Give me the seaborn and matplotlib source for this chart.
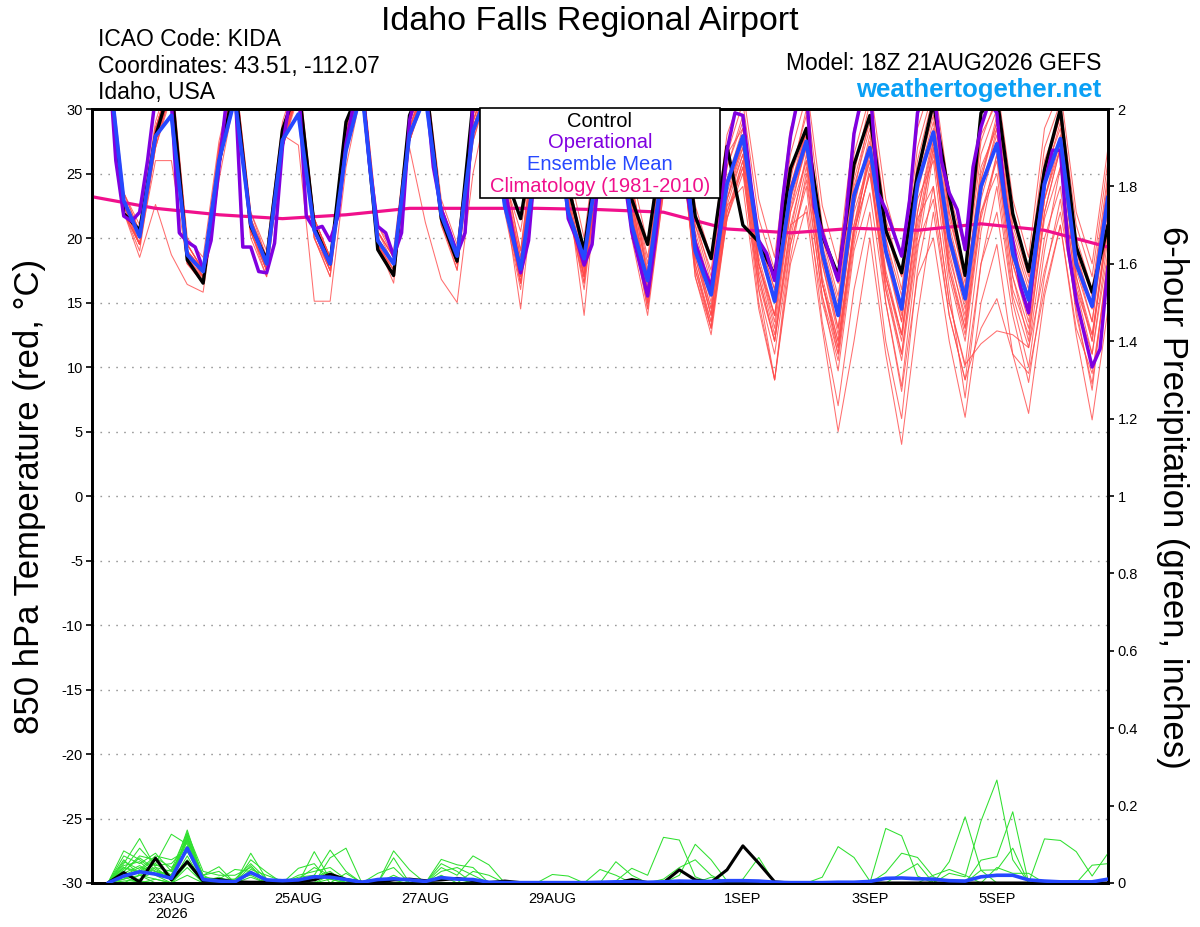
import numpy as np
import pandas as pd
import matplotlib
matplotlib.use("Agg")
import matplotlib.pyplot as plt
import seaborn as sns
from matplotlib.patches import Rectangle

# ------------------------------------------------------------------ data
INIT_TIME = "2026-08-21 18:00"          # model run (18Z 21AUG2026)
N_STEPS = 64                            # 6-hourly steps on the time axis

# Control run, 850 hPa temperature (deg C), steps 1..64 (6-hourly)
CONTROL_T = [
    34.0, 21.9, 20.6, 27.9,  32.0, 18.3, 16.5, 25.8,  32.0, 20.9, 18.3, 28.4,  32.0, 20.9, 18.0, 29.0,
    32.0, 19.1, 17.1, 29.5,  32.5, 21.5, 18.2, 30.5,  33.0, 25.0, 21.5, 29.0,  32.0, 24.0, 19.0, 28.0,
    31.5, 23.0, 19.5, 28.0,  31.0, 21.7, 18.4, 27.1,  21.0, 19.7, 17.1, 25.4,  28.5, 20.2, 17.1, 25.7,
    29.5, 20.6, 17.3, 25.0,  30.5, 23.2, 17.1, 29.7,  31.0, 21.9, 17.4, 25.3,  30.0, 19.3, 15.8, 21.0,
]

# Ensemble mean, steps 1..64
MEAN_T = [
    34.0, 22.9, 20.1, 27.9,  29.5, 18.7, 17.4, 26.0,  30.8, 21.1, 18.0, 27.6,  29.6, 20.6, 18.0, 26.8,
    31.5, 19.8, 18.0, 28.0,  31.0, 21.8, 18.6, 28.3,  31.5, 22.5, 17.6, 26.0,  31.0, 22.0, 18.4, 27.0,
    31.0, 21.0, 16.7, 26.0,  30.5, 19.0, 15.6, 24.2,  27.9, 19.5, 15.1, 23.6,  27.5, 18.9, 14.0, 23.3,
    27.0, 19.0, 14.5, 24.2,  28.2, 20.0, 15.3, 24.0,  27.3, 18.8, 15.2, 24.2,  27.7, 18.0, 14.7, 23.2,
]

# Operational run, 3-hourly from step 1 to step 64
OPER_T = [
    35.0, 26.0, 21.7, 21.3, 22.0, 26.0, 31.0, 33.0, 30.5, 20.4, 19.7, 19.3, 17.6, 19.8, 25.5, 31.0,
    32.0, 19.3, 19.3, 17.4, 17.3, 19.6, 27.1, 31.0, 32.0, 21.7, 20.7, 20.9, 19.8, 21.7, 27.3, 30.5,
    32.0, 25.5, 20.9, 20.4, 18.6, 20.4, 29.1, 31.5, 32.0, 25.5, 22.2, 20.6, 18.8, 20.4, 30.5, 32.0,
    32.0, 28.0, 24.0, 20.4, 17.3, 19.8, 27.0, 31.0, 32.0, 28.0, 21.5, 20.0, 17.9, 19.5, 26.0, 30.5,
    31.5, 25.0, 20.5, 18.0, 15.5, 20.0, 26.0, 30.5, 31.5, 23.5, 19.6, 17.8, 16.2, 20.4, 26.8, 29.7,
    29.5, 24.2, 19.8, 18.8, 16.7, 22.9, 27.9, 31.0, 31.5, 22.4, 20.4, 18.6, 16.7, 21.7, 28.1, 31.0,
    32.0, 23.5, 22.2, 20.4, 18.6, 22.9, 29.7, 31.5, 32.0, 26.0, 23.5, 22.2, 19.1, 25.5, 28.6, 30.5,
    29.7, 22.9, 19.8, 16.2, 14.2, 19.8, 24.2, 26.8, 26.8, 19.1, 15.2, 12.6, 10.0, 11.4, 17.8,
]

# Climatology (1981-2010), daily values at steps 0, 4, 8, ..., 64
CLIM_T = [23.2, 22.3, 21.8, 21.5, 21.8, 22.3, 22.3, 22.3, 22.2,
          22.0, 20.7, 20.4, 20.75, 20.6, 21.1, 20.6, 19.3]

# Ensemble members, 850 hPa temperature, steps 1..64
MEMBERS_T = [
    [34.5,22.0,20.5,28.0, 32.5,18.5,16.8,26.0, 32.0,20.8,18.2,28.5, 32.0,21.0,18.2,28.0,
     32.5,19.5,17.5,29.0, 32.5,21.5,18.0,29.5, 33.0,24.5,20.5,28.5, 32.0,24.5,19.0,28.0,
     31.5,24.0,18.5,27.0, 31.0,21.0,17.5,26.5, 28.5,20.0,17.0,25.0, 28.0,20.0,16.5,25.5,
     29.5,21.0,17.0,25.0, 30.5,22.0,16.5,28.0, 30.5,21.0,17.0,25.5, 30.0,19.0,16.0,22.0],
    [33.5,23.0,19.5,27.5, 31.5,19.5,17.5,27.0, 32.5,21.5,17.5,27.5, 31.5,20.0,17.0,27.0,
     31.5,20.5,18.5,27.5, 31.0,22.5,18.5,28.0, 31.5,23.0,17.0,26.5, 31.5,23.0,17.0,26.0,
     30.5,22.0,15.5,25.0, 29.5,19.0,14.0,23.0, 27.0,18.0,13.0,22.0, 26.0,16.5,11.0,20.5,
     25.0,17.0,12.5,22.0, 27.5,19.0,13.5,23.5, 28.5,18.0,14.0,23.0, 28.0,17.5,13.5,22.5],
    [35.0,23.5,21.0,29.0, 33.0,20.0,18.5,27.5, 33.0,22.0,19.0,29.0, 33.0,21.5,18.5,28.5,
     33.0,21.0,19.0,29.5, 33.0,23.0,19.5,29.5, 33.5,25.0,19.0,29.0, 33.5,25.5,20.0,29.5,
     33.0,25.0,19.5,29.0, 32.5,22.5,18.5,28.0, 31.5,23.0,18.5,28.5, 32.0,22.5,18.0,28.5,
     32.0,23.0,18.5,28.5, 32.5,23.5,19.0,29.0, 32.0,23.0,18.5,28.5, 31.5,22.0,18.0,27.0],
    [33.5,22.5,19.5,26.0, 26.0,18.0,17.0,25.5, 31.5,21.0,18.5,27.0, 31.5,20.5,17.5,27.0,
     32.0,20.0,17.0,28.0, 32.0,21.0,18.0,28.0, 32.0,22.5,16.5,26.0, 31.0,22.0,16.5,26.5,
     30.0,21.0,14.5,24.0, 28.5,17.0,12.5,21.5, 25.0,16.0,11.0,19.5, 24.0,13.5,7.0,16.0,
     22.0,12.0,6.0,17.5, 24.0,15.0,10.0,20.5, 26.5,17.0,12.0,22.0, 27.0,16.5,12.0,21.0],
    [34.0,22.0,18.5,22.6, 18.7,16.4,15.8,24.5, 31.0,20.0,17.0,27.0, 32.0,21.5,18.5,28.5,
     32.0,19.0,17.0,28.5, 32.0,21.5,18.0,28.0, 32.5,24.0,18.0,27.5, 32.0,23.5,17.5,27.0,
     31.0,22.5,16.0,26.0, 30.5,19.5,15.0,24.5, 28.0,18.0,14.0,23.0, 28.5,18.5,13.0,22.0,
     26.0,15.0,8.5,19.0, 26.5,18.5,14.0,24.5, 29.0,19.5,15.5,25.0, 29.5,18.5,14.5,23.5],
    [34.0,23.0,20.0,28.5, 32.0,19.0,17.5,26.5, 32.5,21.5,18.0,28.0, 27.2,15.1,15.1,25.5,
     31.5,20.0,18.0,28.0, 32.0,22.0,18.5,28.5, 32.0,23.5,17.5,27.5, 32.5,24.0,18.5,27.5,
     31.5,23.5,17.0,27.0, 31.5,20.5,16.0,25.5, 29.5,20.0,16.0,24.5, 30.0,20.0,15.5,25.0,
     30.5,21.0,16.0,26.0, 31.0,21.5,17.0,26.5, 30.0,20.5,16.5,26.0, 29.5,20.0,16.0,25.0],
    [34.0,22.5,20.0,27.5, 31.5,19.0,17.0,26.0, 32.0,21.0,18.0,27.5, 32.0,21.0,18.0,27.0,
     31.5,20.0,17.5,27.0, 21.2,16.8,15.0,25.0, 31.0,22.0,16.0,26.0, 31.5,22.5,17.0,26.5,
     30.5,21.5,15.0,24.5, 29.0,18.0,13.0,22.5, 26.5,17.0,12.0,21.0, 22.0,13.0,5.0,12.0,
     20.0,11.0,4.0,14.0, 22.0,14.0,9.0,18.0, 24.0,15.0,10.0,19.0, 25.5,16.0,11.0,20.0],
    [34.5,22.0,19.5,27.5, 32.0,18.0,16.5,25.5, 31.5,20.5,17.5,27.0, 31.5,20.5,17.5,27.5,
     32.0,19.5,16.5,27.5, 31.5,21.5,18.0,28.5, 32.5,23.0,14.5,25.5, 31.0,22.5,16.0,26.0,
     30.0,20.0,14.0,23.5, 28.0,17.5,13.0,22.0, 25.5,15.0,9.0,19.5, 24.5,15.5,9.7,19.0,
     23.5,15.0,8.1,17.0, 20.0,12.0,6.1,15.0, 19.5,11.0,6.4,15.5, 21.0,12.5,5.9,14.5],
    [33.5,23.5,20.5,28.5, 32.5,19.5,17.5,26.5, 32.0,21.0,18.5,28.0, 32.5,21.5,18.5,28.0,
     32.5,20.5,18.5,28.5, 32.0,22.0,19.0,29.0, 32.5,24.0,18.5,28.0, 32.0,24.0,18.5,27.5,
     31.5,23.5,17.0,26.5, 30.0,20.0,15.5,24.0, 27.0,18.0,14.0,22.0, 27.5,18.0,12.5,22.5,
     28.0,19.0,13.5,23.0, 26.0,16.0,7.6,18.0, 22.0,14.0,8.8,17.0, 23.0,14.5,8.2,18.5],
    [34.0,22.5,20.0,28.0, 32.0,19.0,17.0,26.5, 32.0,21.0,18.5,28.0, 31.5,21.0,18.5,27.5,
     32.0,20.0,18.0,28.5, 32.0,22.0,18.5,28.5, 32.0,23.5,17.5,27.0, 32.0,23.5,14.0,27.0,
     31.0,23.0,16.0,25.5, 29.0,18.5,14.0,22.5, 24.0,14.5,9.0,18.0, 22.5,15.0,10.5,19.5,
     25.5,16.5,11.0,20.5, 27.0,17.5,12.5,22.0, 25.0,15.5,11.5,20.0, 24.0,14.0,8.7,18.5],
    [34.0,22.0,19.5,27.5, 31.5,18.5,17.0,26.0, 31.5,20.5,17.5,27.0, 31.5,20.5,17.5,27.0,
     31.0,19.5,17.0,27.5, 31.5,21.5,18.0,28.0, 32.0,23.0,17.0,26.0, 31.0,23.0,17.0,26.5,
     30.5,22.0,15.5,25.0, 29.5,19.0,14.5,23.0, 26.5,17.5,12.5,21.0, 26.0,16.5,12.0,20.5,
     26.5,17.0,12.5,21.5, 24.0,15.0,10.2,11.8, 12.8,12.5,11.5,17.5, 22.0,15.0,11.0,19.0],
    [33.5,22.5,19.5,27.0, 31.5,18.5,16.5,25.5, 31.5,20.5,17.5,27.5, 32.0,20.5,17.5,27.5,
     32.0,19.5,17.0,28.0, 31.5,21.0,17.5,28.0, 31.5,22.5,16.5,25.5, 31.5,22.5,17.0,26.0,
     30.5,21.5,14.5,23.5, 29.0,18.0,13.5,21.5, 25.5,16.5,12.0,20.0, 25.5,16.5,11.5,20.5,
     25.0,16.0,10.5,19.5, 23.0,14.0,9.0,13.0, 15.3,11.0,9.5,16.0, 21.0,13.0,9.5,17.5],
    [34.5,23.0,20.5,28.5, 32.0,19.0,17.5,27.0, 32.5,21.5,18.5,28.5, 32.0,21.0,18.0,28.0,
     32.5,20.0,18.0,29.0, 32.5,22.5,19.0,29.0, 33.0,24.0,18.0,28.0, 32.5,24.5,19.0,28.5,
     32.0,24.0,17.5,27.5, 31.0,21.0,16.5,25.5, 29.0,20.0,16.0,25.0, 29.5,19.5,15.0,24.5,
     29.0,20.0,15.5,25.0, 29.5,20.5,16.0,25.0, 29.0,20.0,16.0,25.5, 29.5,19.5,15.5,24.5],
    [33.0,22.0,19.0,27.0, 31.0,18.0,16.5,25.5, 31.5,20.5,17.0,27.0, 31.0,20.0,17.0,26.5,
     31.5,19.5,17.0,27.5, 31.5,21.5,17.5,27.5, 31.5,22.5,16.5,26.0, 31.5,22.5,16.5,26.0,
     30.0,21.5,15.0,24.5, 28.5,17.5,13.5,22.0, 26.0,16.0,9.0,18.5, 25.0,15.5,11.0,20.0,
     27.0,17.0,12.0,21.0, 27.5,17.5,13.0,22.0, 26.0,16.0,12.5,21.5, 25.5,16.0,12.5,20.5],
    [34.0,23.0,20.0,28.0, 32.5,19.5,17.5,26.5, 32.0,21.5,18.0,28.0, 32.0,21.0,18.0,27.5,
     32.0,20.5,18.0,28.0, 32.0,22.0,19.0,28.5, 32.5,24.0,18.0,27.5, 32.0,24.0,18.5,27.5,
     31.5,23.0,16.5,26.0, 30.5,20.0,15.5,24.5, 28.0,19.5,15.5,24.0, 28.5,19.0,14.5,24.0,
     28.5,19.5,14.0,24.5, 29.0,20.0,15.0,24.5, 29.5,19.5,15.0,25.0, 28.5,19.0,14.5,23.5],
    [34.0,22.5,20.5,28.5, 32.5,19.0,17.0,26.0, 32.0,21.0,18.0,28.0, 32.5,21.5,18.5,28.0,
     32.5,20.0,18.0,28.5, 32.5,22.0,18.5,28.5, 32.5,24.0,17.5,27.0, 32.0,24.0,18.0,27.0,
     31.5,23.0,16.0,25.0, 30.0,18.5,14.0,23.0, 27.5,18.5,14.0,23.0, 27.0,18.0,13.0,22.5,
     27.5,18.5,13.5,23.5, 28.5,19.5,14.5,24.0, 28.0,18.5,14.0,23.0, 27.5,18.0,13.5,22.5],
    [34.5,23.0,20.0,28.0, 32.0,19.0,17.5,26.5, 32.5,21.5,18.5,28.5, 32.5,21.0,18.5,28.5,
     32.0,20.5,18.5,28.5, 32.0,22.5,19.0,29.0, 33.0,24.5,18.5,28.5, 32.5,24.5,19.0,28.0,
     32.0,24.0,18.0,27.5, 31.5,21.5,17.0,26.5, 30.5,21.5,17.5,26.5, 31.0,21.0,16.5,26.5,
     31.0,21.5,17.0,27.0, 31.5,22.0,17.5,27.5, 31.0,21.5,17.5,27.0, 30.5,21.0,17.0,26.0],
    [33.5,22.0,19.5,27.0, 31.5,18.5,16.5,25.5, 31.5,20.5,17.5,27.0, 31.5,20.0,17.5,27.0,
     31.5,19.5,17.0,27.5, 31.5,21.5,18.0,27.5, 32.0,23.0,16.5,26.0, 31.5,23.0,17.0,26.0,
     30.5,22.0,15.0,24.0, 29.0,17.0,13.0,21.5, 26.0,17.0,12.0,20.5, 26.5,16.5,11.5,21.0,
     26.0,16.0,11.0,20.0, 27.0,17.0,12.0,21.5, 26.5,17.0,13.0,22.0, 27.0,17.0,12.5,21.5],
    [34.0,23.5,20.5,28.5, 32.5,19.5,17.5,27.0, 33.0,22.0,18.5,28.5, 32.5,21.0,18.5,28.0,
     33.0,21.0,18.5,29.0, 32.5,22.5,19.0,29.0, 33.0,25.0,19.0,28.5, 32.5,24.0,19.0,28.0,
     32.0,24.5,17.0,26.5, 31.0,20.0,16.0,24.5, 28.5,19.0,15.0,24.0, 28.0,18.5,14.0,23.5,
     29.5,20.0,14.5,25.0, 30.0,21.0,16.0,25.5, 28.5,19.0,15.5,24.5, 29.0,18.5,15.0,24.0],
    [34.0,22.0,19.5,27.5, 32.0,18.5,16.5,26.0, 32.0,21.0,17.5,27.5, 32.0,20.5,17.5,27.5,
     32.0,19.5,17.5,28.0, 31.5,21.5,18.0,28.0, 32.0,23.5,17.0,26.5, 31.5,23.5,17.5,27.0,
     31.0,22.5,15.5,25.0, 30.0,19.0,14.5,23.5, 27.5,18.0,13.5,22.5, 27.0,17.0,12.0,21.0,
     27.0,17.5,12.5,22.0, 28.0,18.0,13.0,23.0, 27.5,18.0,13.5,23.0, 27.0,17.0,12.0,21.5],
]

# 6-hour precipitation (inches), steps 1..64
CONTROL_P = [
    0, .027, .003, .064, .008, .055, .005, .009,   .003, .002, .002, .002, .003, .008, .023, .009,
    .002, .002, .008, .010, .006, .008, .012, .006,  .001, .005, .001, 0, 0, 0, 0, 0,
    0, .009, .001, .001, .034, .008, .002, .034,   .096, .051, .003, 0, 0, 0, 0, 0,
    0, 0, 0, 0, 0, 0, 0, 0,                        0, 0, 0, 0, 0, 0, 0, 0,
]
MEAN_P = [
    0, .018, .029, .023, .012, .090, .009, .005,   .003, .027, .008, .006, .008, .016, .015, .009,
    .002, .009, .011, .008, .004, .014, .010, .009,  .002, .001, .001, .001, .001, .001, .001, .002,
    .003, .003, .002, .003, .005, .004, .004, .006,  .006, .005, .002, .001, .001, .001, .002, .002,
    .004, .012, .013, .011, .010, .006, .005, .016,  .020, .020, .008, .005, .003, .003, .003, .010,
]
MEMBERS_P = [
    [0,.083,.06,.03,.02,.137,.01,0, 0,.077,.01,0,0,0,.02,0, 0,0,.083,.034,0,0,0,0, 0,0,0,0,0,0,0,0,
     0,0,0,0,0,0,0,0, 0,0,0,0,0,0,0,0, 0,.141,.122,.018,0,0,0,0, 0,0,0,0,0,0,0,0],
    [0,.05,.115,.04,.01,.12,.005,.01, .035,.03,0,0,0,.081,.01,0, 0,.025,.04,0,0,.05,.03,0, 0,0,0,0,0,0,0,0,
     0,0,0,0,0,0,0,0, 0,0,0,0,0,0,0,0, 0,.027,.077,.066,.016,0,0,0, 0,0,0,0,0,0,0,0],
    [0,.07,.05,.077,.03,.11,.02,.042, 0,.06,.028,0,0,.02,.085,.03, 0,0,.065,0,0,.061,.047,.04, 0,0,0,0,0,0,0,0,
     0,0,0,0,0,0,0,0, 0,0,0,0,0,0,0,0, 0,0,.025,.05,0,.055,.171,.033, 0,0,0,0,0,0,0,0],
    [0,.04,.03,.05,.126,.10,0,0, .01,.05,.01,0,.038,.05,0,0, 0,0,0,0,0,.04,.02,.07, .047,0,0,0,0,0,0,0,
     0,0,0,0,0,0,0,0, 0,0,0,0,0,0,0,0, 0,0,0,0,0,.025,.016,.16, .266,.06,0,0,0,0,0,0],
    [0,.03,.07,.06,.01,.13,.03,.02, .02,.04,.005,0,0,0,.065,.09, 0,0,0,.01,0,.03,.04,.02, 0,0,0,0,0,0,0,0,
     0,0,0,0,0,0,0,0, 0,0,0,0,0,0,0,0, 0,0,0,0,0,0,0,.059, .068,.184,0,0,0,0,0,0],
    [0,.02,.04,.03,.02,.09,.01,0, 0,0,0,0,.01,.04,.02,0, 0,0,.02,0,0,.02,0,.03, .02,0,0,0,0,0,0,0,
     0,0,0,0,0,0,0,0, 0,0,0,0,0,0,0,0, 0,0,0,0,0,0,0,.033, .034,.09,0,0,0,0,0,0],
    [0,.06,.02,.01,0,.125,0,0, 0,.035,.02,.005,0,0,0,0, 0,0,0,0,0,0,0,0, 0,0,0,0,.022,.018,0,0,
     0,0,0,0,0,0,0,0, 0,0,0,0,0,.015,.094,.066, .005,0,0,0,0,0,0,0, 0,0,0,0,0,0,0,0],
    [0,.01,.03,.065,.04,.08,.02,.03, 0,.015,0,0,.02,.03,.04,.01, 0,0,0,0,0,0,0,0, 0,0,0,0,0,0,0,.035,
     .02,0,0,0,0,0,0,0, 0,0,0,0,0,0,0,0, 0,0,0,0,0,0,0,0, 0,0,0,.114,.11,.081,.018,.077],
    [0,0,.02,.04,.03,.105,0,.005, .005,0,0,0,0,0,0,.025, 0,0,0,0,0,.015,.01,0, 0,0,0,0,0,0,0,0,
     0,0,0,0,0,0,0,0, 0,0,0,0,0,0,0,0, 0,0,0,0,0,0,0,0, 0,0,0,0,0,0,.046,.05],
    [0,.045,.055,.02,0,.07,0,0, 0,.025,.01,0,0,.015,.03,0, 0,0,0,0,0,0,0,0, 0,0,0,0,0,0,0,0,
     .055,.02,0,0,0,0,0,0, 0,0,0,0,0,0,0,0, 0,0,0,0,0,0,0,0, .04,.025,.025,0,0,0,0,0],
    [0,.005,.01,.03,.01,.115,.01,0, 0,0,0,0,0,0,0,0, 0,0,0,0,0,0,0,0, 0,0,0,0,0,0,0,0,
     .005,.038,.02,.118,.111,.016,0,0, 0,0,0,0,0,0,0,0, 0,0,0,0,0,0,0,0, 0,0,0,0,0,0,0,0],
    [0,.035,.09,.045,.05,.095,0,0, 0,.045,0,0,0,0,.01,0, 0,0,0,0,0,0,0,0, 0,0,0,0,0,0,0,0,
     0,0,0,0,.02,.10,.06,.005, 0,0,0,0,0,0,0,0, 0,0,0,0,.02,.035,.02,0, 0,0,0,0,0,0,0,0],
    [0,.015,0,.01,0,.06,.005,0, 0,0,0,0,0,0,0,0, 0,0,0,0,0,0,0,0, 0,0,0,0,0,0,0,0,
     0,0,0,.01,.04,.06,.02,0, 0,0,0,0,0,0,0,0, 0,0,0,0,0,0,0,0, 0,0,0,0,0,0,0,0],
    [0,.025,.045,.02,.035,.13,.015,.01, .01,.02,0,0,.015,.02,.015,.005, 0,0,0,0,0,0,0,0, 0,0,0,0,0,0,0,0,
     0,0,0,0,0,0,0,0, .01,.066,0,0,0,0,0,0, 0,0,0,0,0,0,0,0, 0,0,0,0,0,0,0,0],
    [0,0,.005,0,0,.04,0,0, 0,0,0,0,0,0,0,0, 0,0,0,0,0,0,0,0, 0,0,0,0,0,0,0,0,
     0,0,0,0,0,0,.015,.005, 0,0,0,0,0,0,0,0, 0,0,0,0,0,0,0,0, 0,0,0,0,0,0,0,0],
    [0,.055,.035,.07,.06,.085,0,0, 0,0,0,0,0,0,0,0, 0,0,0,0,0,0,0,0, 0,0,0,0,0,0,0,0,
     0,0,0,0,0,0,0,0, 0,0,0,0,0,0,0,0, 0,0,0,0,0,0,0,0, 0,0,0,0,0,0,0,0],
    [0,0,0,0,0,.02,0,0, 0,0,0,0,0,0,0,0, 0,0,0,0,0,0,0,0, 0,0,0,0,0,0,0,0,
     0,0,0,0,0,0,0,0, 0,0,0,0,0,0,0,0, 0,0,0,0,0,0,0,0, 0,0,0,0,0,0,0,0],
    [0,.03,.065,.035,.015,.12,.02,0, 0,0,0,0,0,0,0,0, 0,0,0,0,0,0,0,0, 0,0,0,0,0,0,0,0,
     0,0,0,0,0,0,0,0, 0,0,0,0,0,0,0,0, 0,0,0,0,0,0,0,0, 0,0,0,0,0,0,0,0],
    [0,.01,.02,0,0,.05,0,0, 0,0,0,0,0,0,0,0, 0,0,0,0,0,0,0,0, 0,0,0,0,0,0,0,0,
     0,0,0,0,0,0,0,0, 0,0,0,0,0,0,0,0, 0,0,0,0,0,0,0,0, 0,0,0,0,0,0,0,0],
    [0,.04,.025,.05,.02,.11,.005,.015, 0,0,0,0,0,0,0,0, 0,0,0,0,0,0,0,0, 0,0,0,0,0,0,0,0,
     0,0,0,0,0,0,0,0, 0,0,0,0,0,0,0,0, 0,0,0,0,0,0,0,0, 0,0,0,0,0,0,0,0],
]

XTICK_DATES = ["2026-08-23", "2026-08-25", "2026-08-27", "2026-08-29",
               "2026-09-01", "2026-09-03", "2026-09-05"]
XTICK_LABELS = ["23AUG\n2026", "25AUG", "27AUG", "29AUG", "1SEP", "3SEP", "5SEP"]
LEFT_TICKS = [-30, -25, -20, -15, -10, -5, 0, 5, 10, 15, 20, 25, 30]
RIGHT_TICKS = [0, 0.2, 0.4, 0.6, 0.8, 1.0, 1.2, 1.4, 1.6, 1.8, 2.0]
RIGHT_TICK_LABELS = ["0", "0.2", "0.4", "0.6", "0.8", "1", "1.2", "1.4", "1.6", "1.8", "2"]

LEGEND_ITEMS = [("Control", "#000000"), ("Operational", "#8000e0"),
                ("Ensemble Mean", "#2648ff"), ("Climatology (1981-2010)", "#f0108c")]

# ------------------------------------------------------------------ style
sns.set_style("white")
plt.rcParams["font.family"] = ["Liberation Sans", "DejaVu Sans"]
plt.rcParams["axes.unicode_minus"] = False
plt.rcParams["text.color"] = "black"
plt.rcParams["axes.labelcolor"] = "black"
plt.rcParams["xtick.color"] = "black"
plt.rcParams["ytick.color"] = "black"
plt.rcParams["axes.edgecolor"] = "black"

RED = "#ff4a4a"
GREEN = "#2fe02f"
BLACK = "#000000"
PURPLE = "#8000e0"
BLUE = "#2648ff"
MAGENTA = "#f0108c"

# ------------------------------------------------------------------ frames
t6 = pd.date_range(INIT_TIME, periods=N_STEPS + 1, freq="6h")
t_steps = t6[1:]
t3 = pd.date_range(t6[1], periods=len(OPER_T), freq="3h")
t_clim = t6[::4][:len(CLIM_T)]

def members_frame(members, col):
    rows = []
    for m, vals in enumerate(members):
        for t, v in zip(t_steps, vals):
            rows.append((t, m, v))
    return pd.DataFrame(rows, columns=["time", "member", col])

df_mt = members_frame(MEMBERS_T, "temp")
df_mp = members_frame(MEMBERS_P, "precip")

# ------------------------------------------------------------------ figure
W, H = 1200, 927
fig = plt.figure(figsize=(W / 100, H / 100), dpi=100)
L, R, T, B = 92, 1108, 109, 883
ax = fig.add_axes([L / W, 1 - B / H, (R - L) / W, (B - T) / H])
ax2 = ax.twinx()

# temperature (left axis)
sns.lineplot(data=df_mt, x="time", y="temp", units="member", estimator=None,
             color=RED, linewidth=0.75, alpha=0.8, ax=ax, legend=False, zorder=2)
sns.lineplot(x=t_clim, y=CLIM_T, color=MAGENTA, linewidth=2.3, ax=ax, zorder=3)
sns.lineplot(x=t_steps[:len(CONTROL_T)], y=CONTROL_T, color=BLACK, linewidth=2.4, ax=ax, zorder=4)
sns.lineplot(x=t3, y=OPER_T, color=PURPLE, linewidth=2.5, ax=ax, zorder=5)
sns.lineplot(x=t_steps[:len(MEAN_T)], y=MEAN_T, color=BLUE, linewidth=2.8, ax=ax, zorder=6)

# precipitation (right axis)
sns.lineplot(data=df_mp, x="time", y="precip", units="member", estimator=None,
             color=GREEN, linewidth=0.75, ax=ax2, legend=False, zorder=2)
sns.lineplot(x=t_steps[:len(CONTROL_P)], y=CONTROL_P, color=BLACK, linewidth=2.2, ax=ax2, zorder=4)
sns.lineplot(x=t_steps[:len(MEAN_P)], y=MEAN_P, color=BLUE, linewidth=2.6, ax=ax2, zorder=5)

# axes limits / ticks
ax.set_xlim(t6[0], t6[-1])
ax.set_ylim(-30, 30)
ax2.set_ylim(0, 2)

ax.set_yticks(LEFT_TICKS)
ax.set_yticklabels([str(v) for v in LEFT_TICKS])
ax2.set_yticks(RIGHT_TICKS)
ax2.set_yticklabels(RIGHT_TICK_LABELS)
ax.set_xticks(pd.to_datetime(XTICK_DATES))
ax.set_xticklabels(XTICK_LABELS, linespacing=1.05)

for a in (ax, ax2):
    a.set_xlabel("")
    a.set_ylabel("")
    for s in a.spines.values():
        s.set_visible(True)
        s.set_color("black")
        s.set_linewidth(2.0)

ax.tick_params(axis="y", direction="out", length=4.5, width=1.2, pad=2, labelsize=10.5, colors="black")
ax.tick_params(axis="x", direction="out", length=4.5, width=1.2, pad=2, labelsize=10.5, colors="black")
ax2.tick_params(axis="y", direction="out", length=4.5, width=1.2, pad=2.5, labelsize=10.5, colors="black")

ax.yaxis.grid(True, linestyle=(0, (1.2, 4.5)), color="#9a9a9a", linewidth=1.0)
ax.xaxis.grid(False)
ax2.grid(False)
ax.set_axisbelow(True)

# legend box (top centre of plot)
bx0, bx1, by0, by1 = 480, 720, 108, 198
box = Rectangle((bx0 / W, 1 - by1 / H), (bx1 - bx0) / W, (by1 - by0) / H,
                transform=fig.transFigure, facecolor="white", edgecolor="black",
                linewidth=1.2, zorder=20)
fig.patches.append(box)
for (label, col), yb in zip(LEGEND_ITEMS, [127, 148.5, 170, 191.5]):
    fig.text(600 / W, 1 - yb / H, label, color=col, fontsize=14.5,
             ha="center", va="baseline", zorder=21)

# header texts
fig.text(590 / W, 1 - 30 / H, "Idaho Falls Regional Airport", fontsize=24.5,
         ha="center", va="baseline", color="black")
fig.text(98 / W, 1 - 46 / H, "ICAO Code: KIDA", fontsize=16.5, ha="left", va="baseline", color="black")
fig.text(98 / W, 1 - 72.5 / H, "Coordinates: 43.51, -112.07", fontsize=16.5, ha="left",
         va="baseline", color="black")
fig.text(98 / W, 1 - 99 / H, "Idaho, USA", fontsize=16.5, ha="left", va="baseline", color="black")
fig.text(1101 / W, 1 - 70 / H, "Model: 18Z 21AUG2026 GEFS", fontsize=16.5, ha="right",
         va="baseline", color="black")
fig.text(1101 / W, 1 - 96.5 / H, "weathertogether.net", fontsize=18.5, fontweight="bold",
         color="#0aa0f5", ha="right", va="baseline")

# axis titles
fig.text(30 / W, 1 - 496 / H, "850 hPa Temperature (red, °C)", fontsize=25,
         rotation=90, ha="center", va="center", color="black")
fig.text(1173 / W, 1 - 497 / H, "6-hour Precipitation (green, inches)", fontsize=25,
         rotation=-90, ha="center", va="center", color="black")

fig.savefig("out.png", dpi=100)
